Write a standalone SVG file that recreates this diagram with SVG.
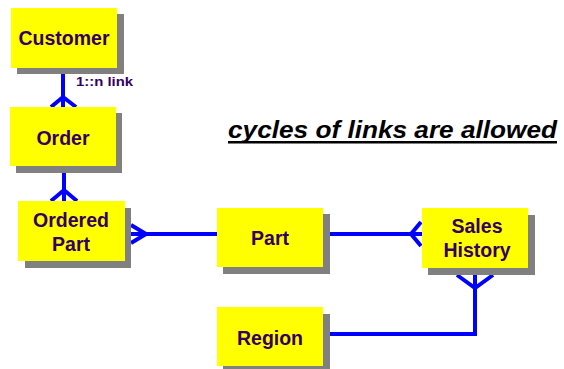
<svg xmlns="http://www.w3.org/2000/svg" width="564" height="369" viewBox="0 0 564 369">
<style>
.sh{fill:#808080}
.bx{fill:#ffff00}
.t{font-family:"Liberation Sans",Arial,sans-serif;font-weight:bold;font-size:19.5px;fill:#330066;text-anchor:middle}
.c{fill:none;stroke:#0000ff;stroke-width:4}
</style>
<rect width="564" height="369" fill="#ffffff"/>
<g id="connectors">
<path class="c" d="M63,74V107"/>
<path class="c" d="M51,107L63,97L76,107"/>
<path class="c" d="M64,173V201"/>
<path class="c" d="M51,201L64,190L77,201"/>
<path class="c" d="M131,234H217"/>
<path class="c" d="M131,225L146,234L131,243"/>
<path class="c" d="M330,234H422"/>
<path class="c" d="M421,222L411,234L421,246"/>
<path class="c" d="M475,275V334H330"/>
<path class="c" d="M457,275L475,288L493,275"/>
<text x="76" y="86" style="font-family:'Liberation Sans',Arial,sans-serif;font-weight:bold;font-size:13px;fill:#330066" textLength="57" lengthAdjust="spacingAndGlyphs">1::n link</text>
</g>
<g id="customer">
<rect class="sh" x="17" y="14" width="107" height="60"/>
<rect class="bx" x="11" y="8" width="106" height="60"/>
<text class="t" x="64" y="45">Customer</text>
</g>
<g id="order">
<rect class="sh" x="16" y="113" width="106" height="60"/>
<rect class="bx" x="10" y="107" width="106" height="59"/>
<text class="t" x="63" y="145">Order</text>
</g>
<g id="ordered-part">
<rect class="sh" x="25" y="208" width="106" height="60"/>
<rect class="bx" x="18" y="201" width="107" height="60"/>
<text class="t" x="71" y="227">Ordered</text>
<text class="t" x="71" y="251">Part</text>
</g>
<g id="part">
<rect class="sh" x="223" y="214" width="107" height="60"/>
<rect class="bx" x="217" y="208" width="106" height="59"/>
<text class="t" x="270" y="245">Part</text>
</g>
<g id="sales-history">
<rect class="sh" x="428" y="215" width="107" height="60"/>
<rect class="bx" x="422" y="208" width="106" height="60"/>
<text class="t" x="477" y="233">Sales</text>
<text class="t" x="477" y="257">History</text>
</g>
<g id="region">
<rect class="sh" x="223" y="314" width="107" height="60"/>
<rect class="bx" x="217" y="307" width="106" height="59"/>
<text class="t" x="270" y="345">Region</text>
</g>
<g id="note">
<text x="228" y="138" style="font-family:'Liberation Sans',Arial,sans-serif;font-weight:bold;font-style:italic;font-size:23px;fill:#000000" textLength="329" lengthAdjust="spacingAndGlyphs">cycles of links are allowed</text>
<rect x="228" y="141" width="329" height="2.5" fill="#000000"/>
</g>
</svg>
